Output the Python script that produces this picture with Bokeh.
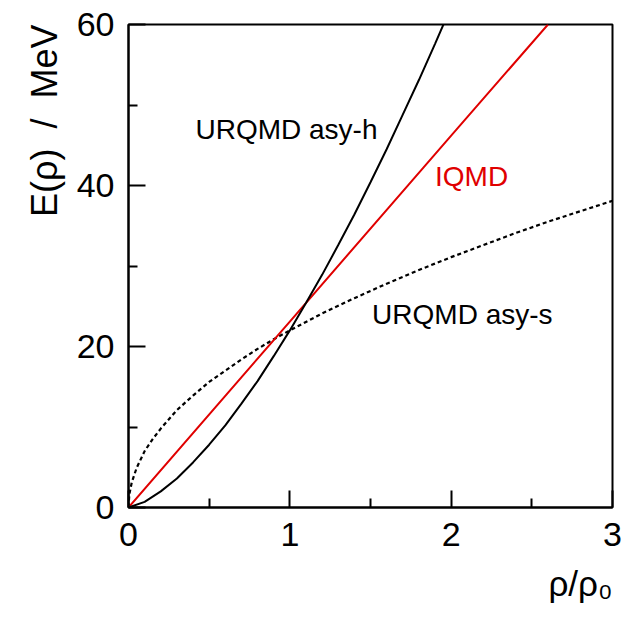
from bokeh.plotting import figure
from bokeh.models import FixedTicker, Range1d, Title
from bokeh.core.properties import value
from bokeh.embed import file_html
from bokeh.resources import INLINE

# Symmetry energy E(rho) versus reduced density rho/rho0
rho_soft = [0.0, 0.005, 0.02, 0.05, 0.1, 0.15, 0.2, 0.3, 0.4, 0.5, 0.6, 0.7, 0.8,
            0.9, 1.0, 1.2, 1.4, 1.6, 1.8, 2.0, 2.2, 2.4, 2.6, 2.8, 3.0]
e_soft = [0.0, 1.6, 3.1, 4.9, 7.0, 8.5, 9.8, 12.1, 13.9, 15.6, 17.0, 18.4, 19.7,
          20.9, 22.0, 24.1, 26.0, 27.8, 29.5, 31.1, 32.6, 34.1, 35.5, 36.8, 38.1]

rho_hard = [0.0, 0.1, 0.2, 0.3, 0.4, 0.5, 0.6, 0.7, 0.8, 0.9, 1.0, 1.1, 1.2,
            1.3, 1.4, 1.5, 1.6, 1.7, 1.8, 1.9, 2.0]
e_hard = [0.0, 0.7, 2.0, 3.6, 5.6, 7.8, 10.2, 12.9, 15.7, 18.8, 22.0, 25.4, 28.9,
          32.6, 36.4, 40.4, 44.5, 48.8, 53.1, 57.6, 62.2]

rho_iqmd = [0.0, 1.0, 2.0, 2.6]
e_iqmd = [0.0, 23.1, 46.2, 60.0]

x_ticks = [0, 1, 2, 3]
x_minor = [0.5, 1.5, 2.5]
y_ticks = [0, 20, 40, 60]
y_minor = [10, 30, 50]

FONT = "Liberation Sans"
NBSP = "\u00a0"

p = figure(width=624, height=617, output_backend="svg", toolbar_location=None,
           x_range=Range1d(0, 3), y_range=Range1d(0, 60),
           min_border_left=128, min_border_right=12,
           min_border_top=24, min_border_bottom=110)

p.background_fill_color = "white"
p.border_fill_color = "white"
p.outline_line_color = "black"
p.outline_line_width = 2
p.grid.visible = False

for ax, ticks, minor in ((p.xaxis[0], x_ticks, x_minor), (p.yaxis[0], y_ticks, y_minor)):
    ax.ticker = FixedTicker(ticks=ticks, minor_ticks=minor)
    ax.axis_line_width = 2
    ax.axis_line_color = "black"
    ax.major_tick_in = 17
    ax.major_tick_out = 0
    ax.minor_tick_in = 9
    ax.minor_tick_out = 0
    ax.major_tick_line_width = 2
    ax.minor_tick_line_width = 2
    ax.major_label_text_font = FONT
    ax.major_label_text_font_size = "34px"
    ax.major_label_text_color = "black"

p.xaxis.major_label_standoff = 15
p.yaxis.major_label_standoff = 14

# curves
p.line(rho_soft, e_soft, line_color="black", line_width=2.2, line_dash="4 3")
p.line(rho_iqmd, e_iqmd, line_color="#e00000", line_width=2)
p.line(rho_hard, e_hard, line_color="black", line_width=2)

# curve annotations
p.text(x=[0.415], y=[47.0], text=["URQMD asy-h"], text_font=value(FONT),
       text_font_size="28px", text_color="black", text_align="left",
       text_baseline="alphabetic")
p.text(x=[1.90], y=[41.1], text=["IQMD"], text_font=value(FONT),
       text_font_size="28px", text_color="#e00000", text_align="left",
       text_baseline="alphabetic")
p.text(x=[1.51], y=[24.0], text=["URQMD asy-s"], text_font=value(FONT),
       text_font_size="28px", text_color="black", text_align="left",
       text_baseline="alphabetic")

# axis titles, placed at the far ends of their axes
y_title = "E(\u03c1)" + NBSP * 2 + "/" + NBSP * 2 + "MeV"
p.add_layout(Title(text=y_title, align="right", vertical_align="top",
                   text_font=FONT, text_font_size="36px",
                   text_font_style="normal", text_color="black",
                   standoff=14), "left")
p.add_layout(Title(text="\u03c1/\u03c1\u2080", align="right",
                   vertical_align="bottom", text_font=FONT,
                   text_font_size="35px", text_font_style="normal",
                   text_color="black", standoff=27), "below")

open("out.html", "w").write(file_html(p, INLINE))
